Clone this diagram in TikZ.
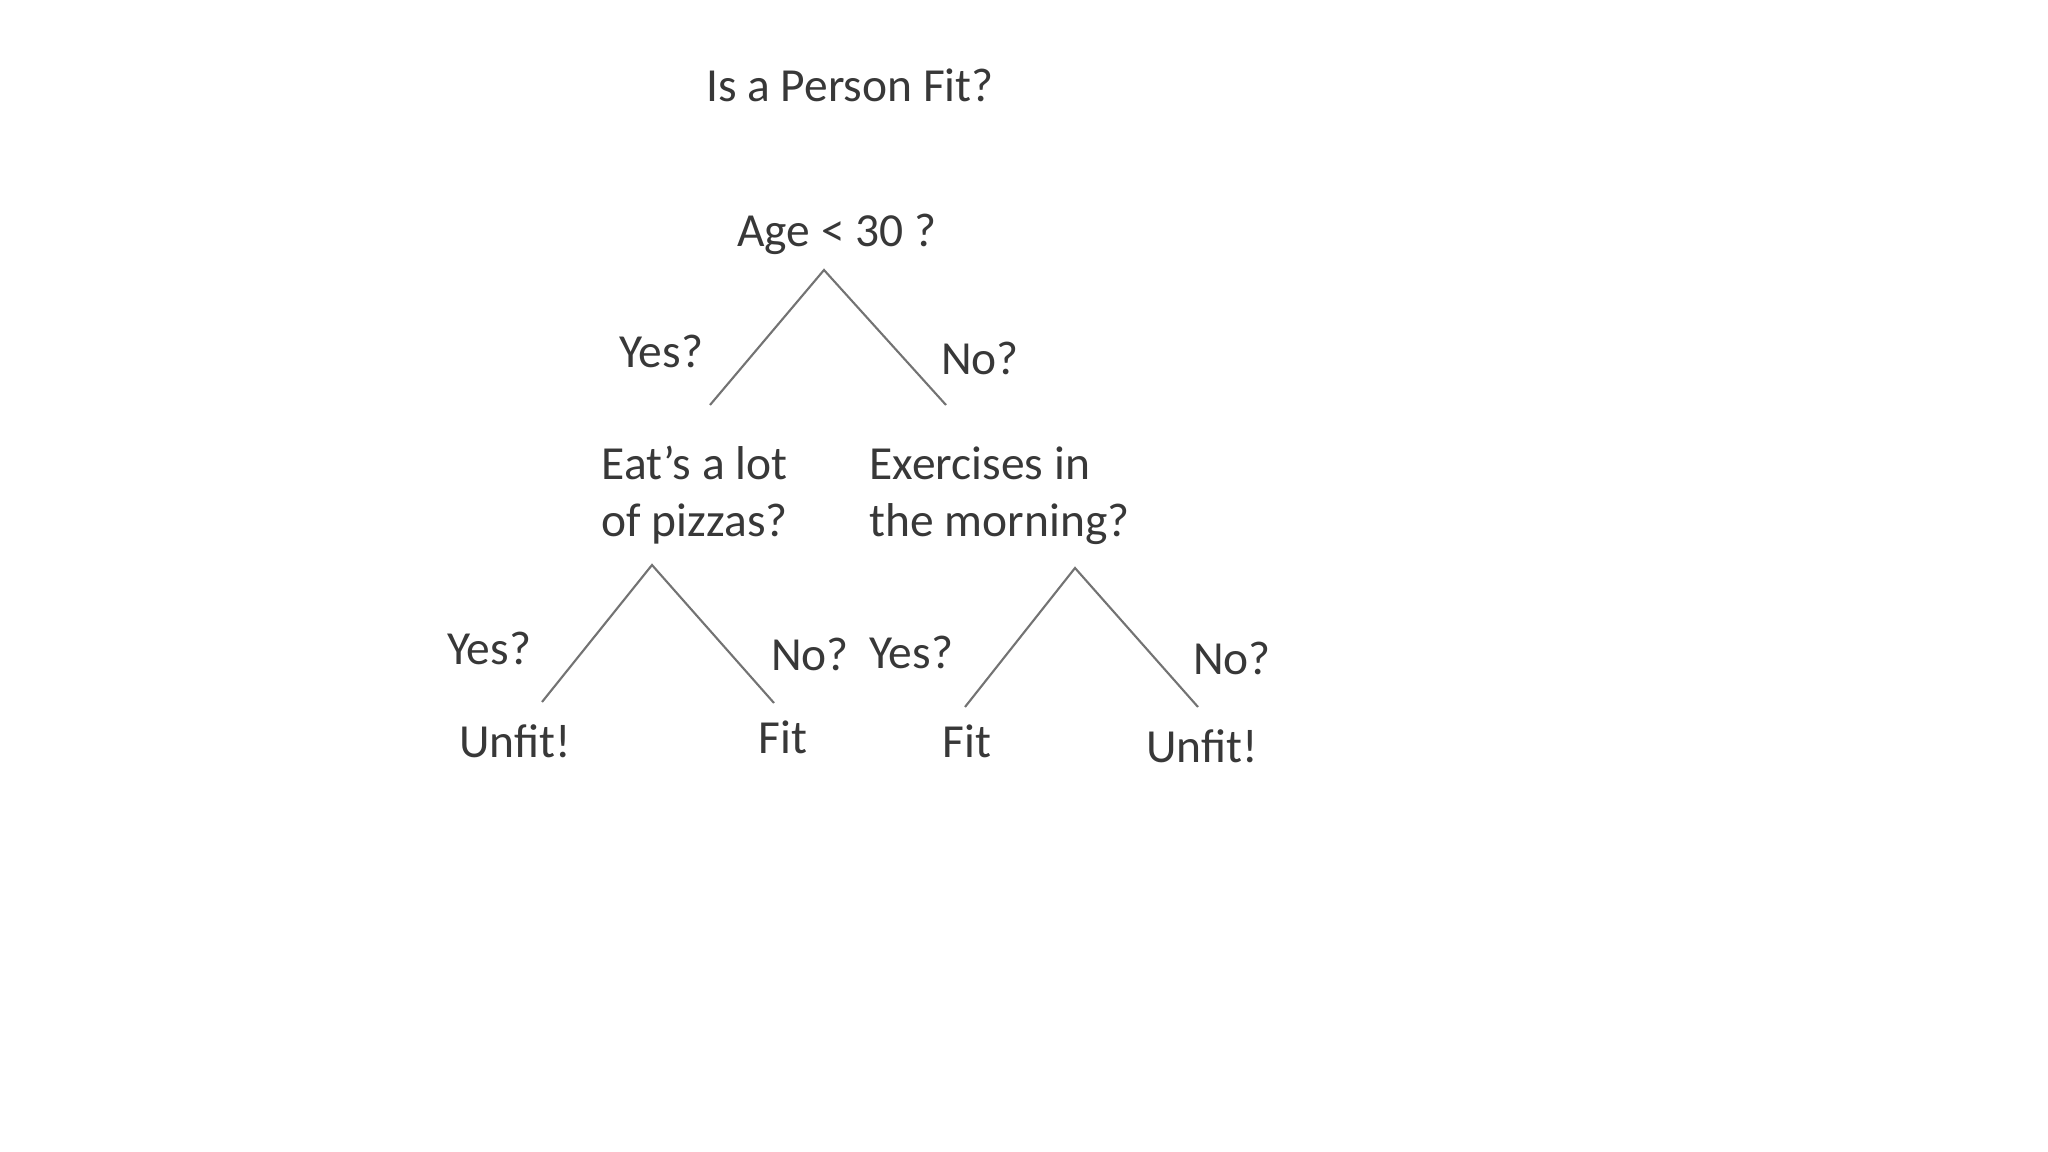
\documentclass[tikz,border=0pt]{standalone}
\usepackage{fontspec}
\setmainfont{Carlito}
\begin{document}
\begin{tikzpicture}[x=0.01cm,y=-0.01cm,
  txt/.style={inner sep=0pt,anchor=base,text=black!78,font=\fontsize{13.5}{16.3}\selectfont},
  qbox/.style={txt,align=left,anchor=base west},
  branch/.style={draw=black!55,line width=0.6pt}]
\useasboundingbox (0,0) rectangle (2048,1152);
\node[txt] (title) at (850,102) {Is a Person Fit?};
\node[txt] (age) at (837,247) {Age < 30 ?};
\coordinate (agetip) at (824,270);
\coordinate (pizzatop) at (710,405);
\coordinate (morningtop) at (946,405);
\draw[branch] (pizzatop) -- (agetip) -- (morningtop);
\node[txt] (ageyes) at (661,368) {Yes?};
\node[txt] (ageno) at (980,375) {No?};
\node[qbox] (pizza) at (601,537) {Eat's a lot\\of pizzas?};
\node[qbox] (morning) at (869,537) {Exercises in\\the morning?};
\coordinate (pizzatip) at (652,565);
\coordinate (unfitatop) at (542,702);
\coordinate (fitatop) at (774,703);
\draw[branch] (unfitatop) -- (pizzatip) -- (fitatop);
\coordinate (morningtip) at (1075,568);
\coordinate (fitbtop) at (965,707);
\coordinate (unfitbtop) at (1198,707);
\draw[branch] (fitbtop) -- (morningtip) -- (unfitbtop);
\node[txt] (pizzayes) at (489,665) {Yes?};
\node[txt] (pizzano) at (810,670) {No?};
\node[txt] (morningyes) at (911,668) {Yes?};
\node[txt] (morningno) at (1232,675) {No?};
\node[txt] (unfita) at (515,757) {Unfit!};
\node[txt] (fita) at (783,753) {Fit};
\node[txt] (fitb) at (967,757) {Fit};
\node[txt] (unfitb) at (1202,762) {Unfit!};
\end{tikzpicture}
\end{document}
